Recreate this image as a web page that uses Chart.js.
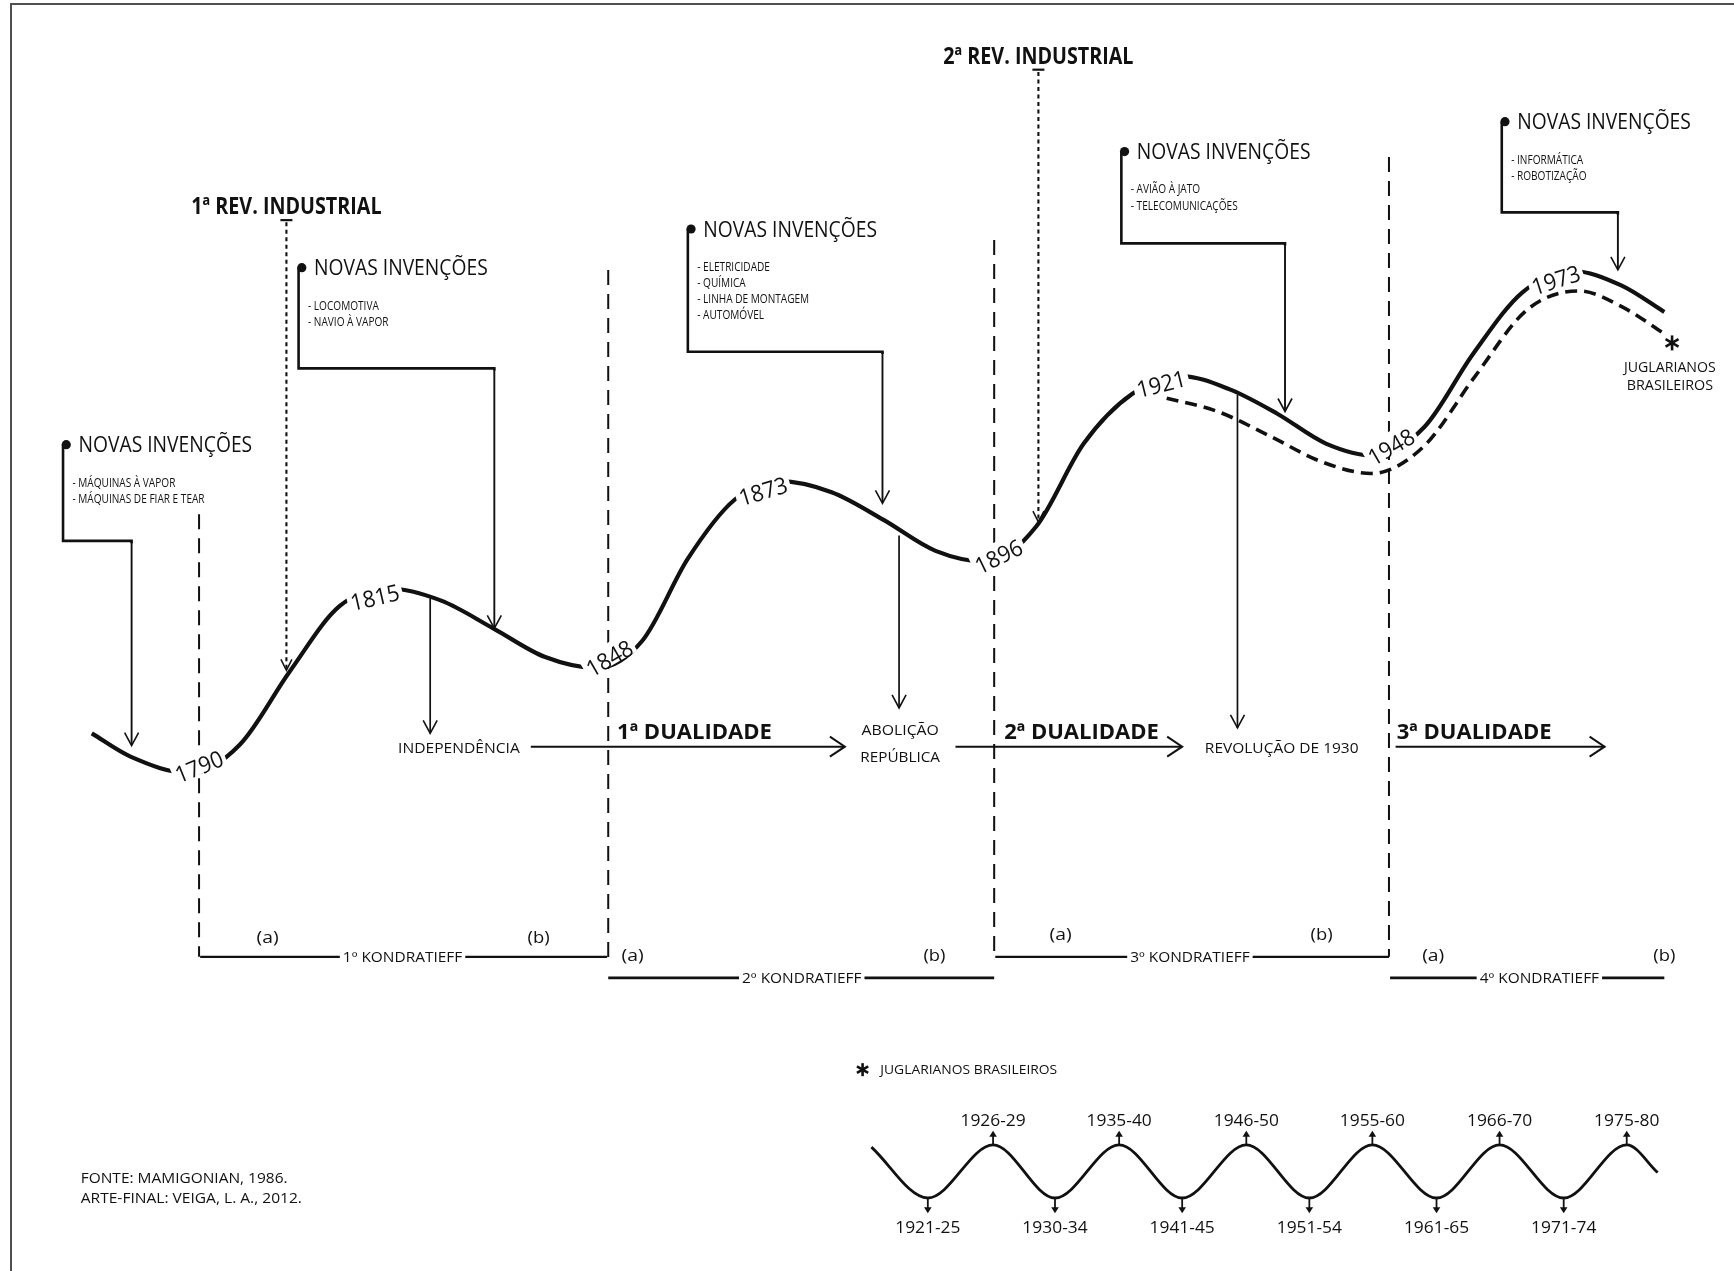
<!DOCTYPE html>
<html>
<head>
<meta charset="utf-8">
<script src="https://cdn.jsdelivr.net/npm/chart.js@4/dist/chart.umd.min.js"></script>
<style>
html,body{margin:0;padding:0;background:#fff;overflow:hidden;}
#wrap{position:relative;width:1734px;height:1271px;}
#frame{position:absolute;left:10px;top:3px;width:1740px;height:1280px;border-left:2px solid #505050;border-top:2px solid #505050;pointer-events:none;}
</style>
</head>
<body>
<div id="wrap"><canvas id="c"></canvas><div id="frame"></div></div>
<script>
// ================= DATA (diagram units: 0..1568 across, 0..1149 down) =================
// Kondratieff long wave (solid trace), read at turning points and quarter swings
const longWaveX = [83,118,172,217,262,307,352,399,446,493,540,581,622,664,705,752,799,846,893,937,980,1024,1068,1112,1155,1199,1243,1288,1332,1377,1422,1466,1505];
const longWaveY = [663,684,699,673,607,548,532,543,568,594,604,579,505,452,435,445,470,498,508,476,401,356,340,352,374,401,412,386,320,264,245,258,282];
// Brazilian juglar trace (dashed)
const juglarTraceX = [1055,1101,1148,1194,1240,1287,1334,1381,1428,1466,1507];
const juglarTraceY = [360,372,394,417,428,404,340,280,263,277,303];
// Turning-point years on the long wave
const turningYears = ['1790','1815','1848','1873','1896','1921','1948','1973'];
const turningX = [180,339,551,690,903,1050,1258,1407];
const turningY = [693,540,595,444,503,347,404,253];
const turningTilt = [-22,-13,-30,-17,-26,-14,-30,-18];
// Kondratieff cycles and phases
const kondNames = ['1º KONDRATIEFF','2º KONDRATIEFF','3º KONDRATIEFF','4º KONDRATIEFF'];
const kondStart = [181,550,900,1257];
const kondEnd = [549,899,1256,1505];
const kondLineY = [865,884,865,884];
const kondNameX = [364,725,1076,1392];
const phaseAX = [242,572,959,1296];
const phaseBX = [487,845,1195,1505];
const phaseY = [847,863,844,863];
const boundaryX = [180,550,899,1256];
const boundaryTop = [465,244,217,142];
const boundaryBottom = [865,866,866,865];
// Industrial revolutions
const revNames = ['1ª REV. INDUSTRIAL','2ª REV. INDUSTRIAL'];
const revX = [259,939];
const revTitleY = [186,50];
const revTipY = [606,472];
// New inventions
const invItems = [
  ['- MÁQUINAS À VAPOR','- MÁQUINAS DE FIAR E TEAR'],
  ['- LOCOMOTIVA','- NAVIO À VAPOR'],
  ['- ELETRICIDADE','- QUÍMICA','- LINHA DE MONTAGEM','- AUTOMÓVEL'],
  ['- AVIÃO À JATO','- TELECOMUNICAÇÕES'],
  ['- INFORMÁTICA','- ROBOTIZAÇÃO']
];
const invLineX = [57,270,622,1014,1358];
const invDotY = [402,242,207,137,110];
const invElbowY = [489,333,318,220,192];
const invArrowX = [119,447,798,1162,1463];
const invTipY = [674,568,455,372,244];
// Historical events and dualities
const eventDropX = [389,813,1119];
const eventDropTop = [541,484,357];
const eventDropTip = [663,640,658];
const dualNames = ['1ª DUALIDADE','2ª DUALIDADE','3ª DUALIDADE'];
const dualTextX = [558,908,1263];
const dualArrowFrom = [480,864,1262];
const dualArrowTo = [764,1069,1451];
// Juglar cycles (small wave)
const jugX = [788,839,898,954,1012,1069,1127,1184,1241,1299,1356,1414,1471,1499];
const jugY = [1037,1083,1035,1083,1035,1083,1035,1083,1035,1083,1035,1083,1035,1060];
const jugPeakLabels = ['1926-29','1935-40','1946-50','1955-60','1966-70','1975-80'];
const jugTroughLabels = ['1921-25','1930-34','1941-45','1951-54','1961-65','1971-74'];

// ================= DRAWING =================
const FONT = '"Open Sans", "Noto Sans", sans-serif';
const INK = '#111';

function pts(xs, ys){ return xs.map((x,i)=>({x, y: ys[i]})); }

const diagram = {
  id: 'diagram',
  beforeDatasetsDraw(chart){
    const {ctx} = chart;
    const sx = chart.scales.x, sy = chart.scales.y;
    const X = v => sx.getPixelForValue(v), Y = v => sy.getPixelForValue(v);
    const line = (x1,y1,x2,y2,w,dash) => {
      ctx.save(); ctx.strokeStyle = INK; ctx.lineWidth = w; ctx.setLineDash(dash||[]);
      ctx.beginPath(); ctx.moveTo(X(x1),Y(y1)); ctx.lineTo(X(x2),Y(y2)); ctx.stroke(); ctx.restore();
    };
    const vHead = (x,y,dir,l,w,lw) => {
      ctx.save(); ctx.strokeStyle = INK; ctx.lineWidth = lw; ctx.lineJoin='miter';
      ctx.beginPath();
      ctx.moveTo(X(x)-w, Y(y)-dir*l); ctx.lineTo(X(x),Y(y)); ctx.lineTo(X(x)+w, Y(y)-dir*l);
      ctx.stroke(); ctx.restore();
    };
    const hHead = (x,y,l,w,lw) => {
      ctx.save(); ctx.strokeStyle = INK; ctx.lineWidth = lw;
      ctx.beginPath();
      ctx.moveTo(X(x)-l, Y(y)-w); ctx.lineTo(X(x),Y(y)); ctx.lineTo(X(x)-l, Y(y)+w);
      ctx.stroke(); ctx.restore();
    };
    boundaryX.forEach((bx,i)=> line(bx,boundaryTop[i],bx,boundaryBottom[i],2,[15,9]));
    kondStart.forEach((s,i)=> line(s,kondLineY[i],kondEnd[i],kondLineY[i], i%2? 2.6:2.1));
    revX.forEach((rx,i)=>{
      line(rx-6/1.106, revTitleY[i]+13, rx+6/1.106, revTitleY[i]+13, 2.2);
      line(rx, revTitleY[i]+15, rx, revTipY[i]-1, 2.1, [4,3.5]);
      vHead(rx, revTipY[i], 1, 11, 5.5, 1.5);
    });
    invLineX.forEach((lx,i)=>{
      ctx.save(); ctx.strokeStyle = INK; ctx.lineWidth = 2.6; ctx.lineJoin='miter';
      ctx.beginPath();
      ctx.moveTo(X(lx), Y(invDotY[i]));
      ctx.lineTo(X(lx), Y(invElbowY[i]));
      ctx.lineTo(X(invArrowX[i]), Y(invElbowY[i]));
      ctx.lineTo(X(invArrowX[i]), Y(invElbowY[i]+2));
      ctx.stroke(); ctx.restore();
      line(invArrowX[i], invElbowY[i], invArrowX[i], invTipY[i]-1, 1.9);
      vHead(invArrowX[i], invTipY[i], 1, 13, 7, 1.6);
      ctx.save(); ctx.fillStyle = INK; ctx.beginPath();
      ctx.arc(X(lx)+3.2, Y(invDotY[i]), 4.6, 0, Math.PI*2); ctx.fill(); ctx.restore();
    });
    eventDropX.forEach((ex,i)=>{
      line(ex, eventDropTop[i], ex, eventDropTip[i], 1.7);
      vHead(ex, eventDropTip[i], 1, 13, 7, 1.6);
    });
    dualArrowFrom.forEach((f,i)=>{
      line(f, 675, dualArrowTo[i], 675, 2);
      hHead(dualArrowTo[i], 675, 15, 10, 2);
    });
    jugX.forEach((x,i)=>{
      if (i===0 || i===jugX.length-1) return;
      const up = (i%2===0);
      const y0 = jugY[i];
      const y1 = up ? y0-10 : y0+11;
      line(x, y0, x, y1, 1.8);
      ctx.save(); ctx.fillStyle = INK; ctx.beginPath();
      const tip = up ? Y(y1)-3 : Y(y1)+3;
      const base = up ? Y(y1)+3 : Y(y1)-3;
      ctx.moveTo(X(x), tip); ctx.lineTo(X(x)-3.8, base); ctx.lineTo(X(x)+3.8, base); ctx.closePath(); ctx.fill(); ctx.restore();
    });
  },
  afterDatasetsDraw(chart){
    const {ctx} = chart;
    const sx = chart.scales.x, sy = chart.scales.y;
    const X = v => sx.getPixelForValue(v), Y = v => sy.getPixelForValue(v);
    const k = chart.width/1568;
    const txt = (s, x, y, size, o={}) => {
      const bold = o.bold||false, align = o.align||'left';
      ctx.save();
      ctx.font = (bold?'700 ':'400 ') + size + 'px ' + FONT;
      ctx.textBaseline = 'alphabetic';
      const w = ctx.measureText(s).width;
      const sc = o.fit ? (o.fit*k)/w : (o.squeeze||0.86);
      ctx.translate(X(x), Y(y));
      if (o.rot) ctx.rotate(o.rot*Math.PI/180);
      ctx.scale(sc,1);
      const dx = align==='center' ? -w/2 : align==='right' ? -w : 0;
      const capMid = size*0.36;
      if (o.bg){ ctx.fillStyle='#fff'; ctx.fillRect(dx-(o.pad||4)/sc, -size*0.62, w+2*(o.pad||4)/sc, size*0.95); }
      ctx.fillStyle = INK;
      ctx.fillText(s, dx, capMid);
      ctx.restore();
    };
    const star = (x,y,r) => {
      ctx.save(); ctx.strokeStyle = INK; ctx.lineWidth = 2.6; ctx.lineCap='butt';
      [90,30,150].forEach(a=>{
        const c = Math.cos(a*Math.PI/180)*r, s = Math.sin(a*Math.PI/180)*r;
        ctx.beginPath(); ctx.moveTo(X(x)-c, Y(y)-s); ctx.lineTo(X(x)+c, Y(y)+s); ctx.stroke();
      });
      ctx.restore();
    };
    turningYears.forEach((yr,i)=> txt(yr, turningX[i], turningY[i], 23, {align:'center', fit:45, rot:turningTilt[i], bg:true, pad:3}));
    revNames.forEach((n,i)=> txt(n, revX[i], revTitleY[i], 23, {bold:true, align:'center', fit:172}));
    invLineX.forEach((lx,i)=>{
      txt('NOVAS INVENÇÕES', lx+14, invDotY[i], 21, {fit:157});
      invItems[i].forEach((it,j)=> txt(it, lx+8.5, invDotY[i]+34+j*14.5, 12, {squeeze:0.84}));
    });
    txt('INDEPENDÊNCIA', 415, 676, 15, {align:'center', fit:110});
    txt('ABOLIÇÃO', 814, 660, 15, {align:'center', fit:70});
    txt('REPÚBLICA', 814, 684, 15, {align:'center', fit:72});
    txt('REVOLUÇÃO DE 1930', 1159, 676, 15, {align:'center', fit:139});
    dualNames.forEach((n,i)=> txt(n, dualTextX[i], 661, 22, {bold:true, fit:140}));
    kondNames.forEach((n,i)=> txt(n, kondNameX[i], kondLineY[i], 14, {align:'center', fit:108, bg:true, pad:3}));
    phaseAX.forEach((x,i)=>{
      txt('(a)', x, phaseY[i], 17, {align:'center', fit:20});
      txt('(b)', phaseBX[i], phaseY[i], 17, {align:'center', fit:20});
    });
    star(1512, 310, 7.5);
    txt('JUGLARIANOS', 1510, 332, 14, {align:'center', fit:83});
    txt('BRASILEIROS', 1510, 348, 14, {align:'center', fit:78});
    star(780, 967, 6.5);
    txt('JUGLARIANOS BRASILEIROS', 796, 967, 13, {fit:160});
    let p = 0, t = 0;
    jugX.forEach((x,i)=>{
      if (i===0 || i===jugX.length-1) return;
      if (i%2===0) { txt(jugPeakLabels[p++], x, 1012, 17, {align:'center', fit:59}); }
      else { txt(jugTroughLabels[t++], x, 1109, 17, {align:'center', fit:59}); }
    });
    txt('FONTE: MAMIGONIAN, 1986.', 73, 1065, 15, {fit:187});
    txt('ARTE-FINAL: VEIGA, L. A., 2012.', 73, 1083, 15, {fit:200});
  }
};

new Chart(document.getElementById('c'), {
  type: 'line',
  data: {
    datasets: [
      { data: pts(longWaveX, longWaveY), borderColor: INK, borderWidth: 4.2, pointRadius: 0, cubicInterpolationMode: 'monotone', fill: false, clip: false },
      { data: pts(juglarTraceX, juglarTraceY), borderColor: INK, borderWidth: 3.6, borderDash: [12,7], pointRadius: 0, cubicInterpolationMode: 'monotone', fill: false, clip: false },
      { data: pts(jugX, jugY), borderColor: INK, borderWidth: 2.8, pointRadius: 0, cubicInterpolationMode: 'monotone', fill: false, clip: false }
    ]
  },
  options: {
    responsive: true,
    maintainAspectRatio: false,
    animation: false,
    devicePixelRatio: 1,
    events: [],
    layout: { padding: 0 },
    plugins: { legend: { display: false }, tooltip: { enabled: false } },
    scales: {
      x: { type: 'linear', min: 0, max: 1568, display: false },
      y: { type: 'linear', min: 0, max: 1149, reverse: true, display: false }
    }
  },
  plugins: [diagram]
});
</script>
</body>
</html>
